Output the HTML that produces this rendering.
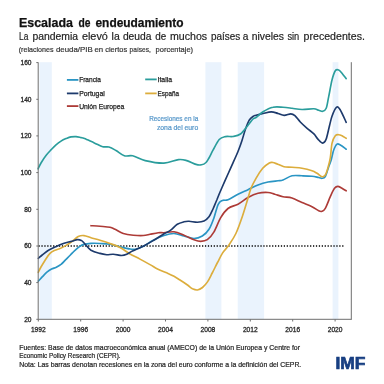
<!DOCTYPE html>
<html><head><meta charset="utf-8"><style>
html,body{margin:0;padding:0;background:#fff;}
body{width:384px;height:384px;overflow:hidden;position:relative;}
svg{position:absolute;left:0;top:0;font-family:"Liberation Sans", sans-serif;will-change:transform;}
</style></head><body>
<svg width="384" height="384" viewBox="0 0 384 384">
<rect x="39.4" y="62.2" width="12.4" height="257.1" fill="#eaf3fd"/>
<rect x="205.4" y="62.2" width="16.0" height="257.1" fill="#eaf3fd"/>
<rect x="237.7" y="62.2" width="26.4" height="257.1" fill="#eaf3fd"/>
<rect x="332.6" y="62.2" width="5.8" height="257.1" fill="#eaf3fd"/>
<line x1="38.5" y1="246" x2="345" y2="246" stroke="#000" stroke-width="1.3" stroke-dasharray="1.25 1.67"/>
<path d="M38.3 281.2 C39.0 280.5 40.8 278.4 42.2 276.9 C43.7 275.4 45.3 273.5 46.9 272.2 C48.5 270.9 50.0 269.8 51.6 269.0 C53.2 268.2 54.7 268.0 56.3 267.2 C57.9 266.4 59.4 265.6 61.0 264.4 C62.6 263.1 64.1 261.3 65.7 259.7 C67.3 258.1 68.9 256.6 70.4 255.0 C72.0 253.4 73.4 251.7 75.0 250.3 C76.6 248.9 78.2 247.4 79.8 246.4 C81.2 245.4 82.1 244.9 84.0 244.4 C85.9 243.9 88.3 243.6 91.0 243.4 C93.7 243.2 96.8 243.3 100.0 243.5 C103.2 243.7 106.7 243.8 110.0 244.3 C113.3 244.9 116.7 246.0 120.0 246.8 C123.3 247.6 127.2 248.6 130.0 249.0 C132.8 249.4 134.5 249.4 136.7 249.0 C138.9 248.6 140.5 247.8 143.3 246.3 C146.1 244.8 149.9 242.0 153.3 240.2 C156.8 238.4 160.6 236.6 164.0 235.5 C167.4 234.4 170.7 233.4 174.0 233.5 C177.3 233.6 180.7 235.2 184.0 236.0 C187.3 236.8 190.9 238.5 194.0 238.5 C197.1 238.5 199.8 237.5 202.3 236.0 C204.8 234.5 207.1 232.4 209.0 229.3 C210.9 226.2 212.5 221.9 214.0 217.7 C215.5 213.5 216.8 207.2 218.2 204.3 C219.6 201.4 220.7 201.3 222.3 200.5 C223.9 199.7 225.4 200.8 228.0 199.7 C230.6 198.6 234.7 195.9 238.0 194.2 C241.3 192.5 244.7 191.2 248.0 189.7 C251.3 188.2 254.7 186.3 258.0 185.0 C261.3 183.7 264.7 182.7 268.0 182.0 C271.3 181.3 275.5 181.1 278.0 180.8 C280.5 180.5 280.7 180.8 283.0 180.0 C285.3 179.2 288.8 176.5 292.0 175.8 C295.2 175.1 298.7 175.7 302.0 175.8 C305.3 175.9 309.2 176.0 312.0 176.3 C314.8 176.6 317.0 177.2 318.7 177.5 C320.4 177.8 320.9 178.4 322.0 178.3 C323.1 178.2 324.2 178.6 325.3 176.7 C326.4 174.8 327.7 169.5 328.7 166.7 C329.7 163.9 330.4 162.8 331.2 160.0 C332.0 157.2 332.7 152.6 333.7 150.0 C334.7 147.4 335.9 145.0 337.0 144.2 C338.1 143.4 338.8 144.2 340.3 145.0 C341.8 145.8 345.2 148.5 346.2 149.2" fill="none" stroke="#2a95c4" stroke-width="1.65" stroke-linejoin="round" stroke-linecap="round"/>
<path d="M91.0 225.7 C92.5 225.8 96.8 226.0 100.0 226.3 C103.2 226.6 107.5 226.8 110.0 227.3 C112.5 227.8 112.8 228.3 115.0 229.3 C117.2 230.3 120.2 232.5 123.3 233.5 C126.3 234.5 130.0 234.9 133.3 235.2 C136.6 235.5 140.5 235.7 143.3 235.5 C146.1 235.3 147.5 234.8 150.0 234.3 C152.5 233.8 156.0 233.0 158.3 232.7 C160.6 232.4 161.4 232.8 164.0 232.7 C166.6 232.5 170.7 231.4 174.0 231.8 C177.3 232.2 180.7 233.9 184.0 235.2 C187.3 236.5 191.2 238.7 194.0 239.7 C196.8 240.7 198.5 241.3 200.7 241.3 C202.9 241.3 205.1 241.3 207.3 239.7 C209.5 238.1 211.8 235.5 214.0 231.8 C216.2 228.1 218.4 221.6 220.7 217.7 C223.0 213.8 225.1 210.8 228.0 208.5 C230.9 206.2 234.7 206.0 238.0 204.2 C241.3 202.4 244.7 199.3 248.0 197.5 C251.3 195.7 254.7 194.1 258.0 193.3 C261.3 192.5 265.2 192.3 268.0 192.5 C270.8 192.7 272.2 193.5 274.7 194.2 C277.2 194.9 280.1 196.1 283.0 196.7 C285.9 197.3 288.8 197.0 292.0 198.0 C295.2 199.0 298.7 201.1 302.0 202.5 C305.3 203.9 309.2 205.3 312.0 206.7 C314.8 208.1 317.0 210.0 318.7 210.8 C320.4 211.6 320.9 211.7 322.0 211.3 C323.1 210.9 323.9 210.7 325.3 208.3 C326.7 205.9 328.8 200.0 330.3 196.7 C331.8 193.4 333.2 190.0 334.5 188.3 C335.8 186.6 336.6 186.3 337.8 186.3 C339.1 186.3 340.6 187.6 342.0 188.3 C343.4 189.1 345.5 190.4 346.2 190.8" fill="none" stroke="#ad3b37" stroke-width="1.65" stroke-linejoin="round" stroke-linecap="round"/>
<path d="M38.3 272.4 C38.7 271.6 39.5 269.6 40.7 267.5 C41.9 265.4 43.9 262.1 45.4 259.7 C46.9 257.3 48.4 255.0 50.0 253.4 C51.6 251.8 53.2 251.1 54.8 250.3 C56.3 249.5 57.6 249.5 59.4 248.8 C61.2 248.0 63.6 246.8 65.7 245.6 C67.8 244.4 69.8 243.2 71.9 241.7 C74.0 240.2 76.2 237.6 78.2 236.6 C80.2 235.6 81.9 235.4 84.0 235.6 C86.1 235.8 88.3 236.9 91.0 237.7 C93.7 238.5 96.8 239.2 100.0 240.2 C103.2 241.2 106.7 242.3 110.0 243.5 C113.3 244.7 116.7 245.8 120.0 247.5 C123.3 249.2 126.7 252.1 130.0 254.0 C133.3 255.9 136.7 257.3 140.0 259.1 C143.3 260.9 147.1 263.0 150.0 264.6 C152.9 266.2 154.5 267.5 157.5 269.0 C160.5 270.5 165.2 272.2 168.0 273.4 C170.8 274.6 172.0 275.2 174.0 276.3 C176.0 277.4 177.8 278.6 180.0 280.0 C182.2 281.4 185.4 283.5 187.5 285.0 C189.6 286.5 190.8 287.9 192.5 288.8 C194.2 289.6 195.8 290.2 197.5 290.0 C199.2 289.8 200.8 288.9 202.5 287.5 C204.2 286.1 205.8 284.4 207.5 281.9 C209.2 279.4 210.8 275.7 212.5 272.5 C214.2 269.3 215.8 265.7 217.5 262.5 C219.2 259.3 220.7 255.9 222.5 253.1 C224.3 250.3 226.2 249.0 228.4 245.7 C230.6 242.4 233.6 238.4 235.9 233.5 C238.2 228.6 240.7 221.3 242.5 216.0 C244.3 210.7 245.6 206.1 247.0 201.5 C248.4 196.9 249.5 192.2 251.0 188.3 C252.5 184.4 254.1 181.6 256.0 178.3 C257.9 175.0 260.5 170.9 262.7 168.3 C264.9 165.8 267.6 164.0 269.3 163.0 C271.0 162.0 271.3 162.3 272.7 162.5 C274.1 162.7 275.8 163.5 277.7 164.2 C279.6 164.9 281.6 166.2 284.0 166.7 C286.4 167.2 289.0 167.0 292.0 167.3 C295.0 167.6 298.7 167.7 302.0 168.3 C305.3 168.9 309.5 170.0 312.0 170.8 C314.5 171.6 315.3 172.3 317.0 173.3 C318.7 174.3 320.6 176.4 322.0 176.7 C323.4 177.0 324.3 176.4 325.3 175.0 C326.3 173.6 327.0 171.1 327.8 168.3 C328.6 165.5 329.6 162.2 330.3 158.0 C331.0 153.8 331.2 147.0 332.0 143.3 C332.8 139.6 334.2 137.2 335.3 135.8 C336.4 134.4 337.6 134.7 338.7 134.7 C339.8 134.7 340.8 135.2 342.0 135.8 C343.2 136.4 345.5 137.9 346.2 138.3" fill="none" stroke="#dcad3c" stroke-width="1.65" stroke-linejoin="round" stroke-linecap="round"/>
<path d="M38.3 258.3 C39.0 257.8 40.5 256.3 42.2 255.0 C44.0 253.7 46.2 251.7 48.5 250.3 C50.8 248.9 53.7 247.6 56.3 246.4 C58.9 245.2 61.5 244.2 64.1 243.3 C66.7 242.4 69.7 241.9 71.9 241.2 C74.1 240.6 75.8 239.7 77.4 239.6 C79.0 239.5 80.1 239.8 81.3 240.4 C82.5 241.1 82.9 241.9 84.5 243.5 C86.1 245.1 88.4 248.5 91.0 250.2 C93.6 251.8 97.4 252.7 100.0 253.4 C102.6 254.2 104.5 254.5 106.7 254.7 C108.9 254.8 110.8 254.2 113.3 254.3 C115.8 254.4 119.5 255.5 121.7 255.5 C123.9 255.5 124.9 255.1 126.7 254.3 C128.5 253.6 129.4 252.5 132.5 251.0 C135.6 249.5 141.2 247.1 145.0 245.2 C148.8 243.3 151.8 241.4 155.0 239.5 C158.2 237.6 161.4 235.4 164.0 233.8 C166.6 232.2 168.5 231.8 170.7 230.2 C172.9 228.6 175.1 225.7 177.3 224.3 C179.5 222.9 182.1 222.3 184.0 221.8 C185.9 221.3 186.8 221.2 189.0 221.3 C191.2 221.4 194.8 222.2 197.3 222.2 C199.8 222.1 202.1 221.9 204.0 221.0 C205.9 220.1 207.5 218.8 209.0 216.8 C210.5 214.8 211.7 211.8 213.0 209.0 C214.3 206.2 215.2 203.6 216.8 200.0 C218.2 196.4 220.1 191.8 222.0 187.5 C223.9 183.2 226.2 178.1 228.0 174.0 C229.8 169.9 231.3 166.6 233.0 162.8 C234.7 159.1 236.5 155.2 238.0 151.5 C239.5 147.8 240.8 144.2 242.0 140.5 C243.2 136.8 244.3 132.4 245.5 129.0 C246.7 125.6 248.0 122.3 249.2 120.2 C250.5 118.2 251.9 117.3 253.0 116.5 C254.1 115.7 254.3 115.8 256.0 115.2 C257.7 114.8 260.4 114.1 263.0 113.5 C265.6 112.9 268.8 111.8 271.3 111.8 C273.8 111.8 275.9 112.9 278.0 113.5 C280.1 114.1 282.0 115.4 284.1 115.4 C286.2 115.5 289.0 113.8 290.8 113.8 C292.6 113.8 293.3 114.2 294.9 115.6 C296.5 117.0 298.3 119.9 300.3 122.0 C302.3 124.1 304.8 126.3 307.1 128.3 C309.4 130.3 312.1 132.1 313.9 133.9 C315.7 135.7 316.4 137.6 317.9 139.1 C319.4 140.6 321.3 143.1 322.7 143.1 C324.1 143.1 325.0 142.2 326.1 139.3 C327.2 136.4 328.5 129.5 329.5 125.7 C330.5 121.9 330.9 119.3 332.0 116.3 C333.1 113.2 335.1 108.5 336.4 107.4 C337.7 106.3 338.4 107.0 340.0 109.5 C341.6 112.0 345.2 120.2 346.2 122.3" fill="none" stroke="#1d3a6c" stroke-width="1.65" stroke-linejoin="round" stroke-linecap="round"/>
<path d="M38.1 168.8 C38.6 167.8 39.7 165.2 41.0 163.0 C42.3 160.8 44.3 157.7 46.0 155.5 C47.7 153.3 49.3 151.7 51.0 149.9 C52.7 148.1 54.3 146.4 56.0 144.9 C57.7 143.4 59.3 142.2 61.0 141.1 C62.7 140.0 64.3 139.3 66.0 138.6 C67.7 137.9 69.3 137.2 71.0 136.9 C72.7 136.6 74.3 136.5 76.0 136.6 C77.7 136.7 79.6 137.3 81.0 137.6 C82.4 137.9 82.3 137.7 84.5 138.6 C86.7 139.5 91.3 141.6 94.3 142.9 C97.3 144.2 100.3 146.0 102.7 146.7 C105.1 147.4 106.7 146.4 108.9 147.0 C111.1 147.6 113.4 149.0 116.0 150.5 C118.6 152.0 121.5 154.9 124.3 155.8 C127.1 156.7 129.2 155.0 132.7 155.8 C136.2 156.6 140.0 159.4 145.2 160.6 C150.4 161.8 158.3 163.3 163.9 163.1 C169.5 162.9 174.7 160.0 178.5 159.6 C182.3 159.2 183.9 159.8 186.8 160.6 C189.7 161.4 193.6 163.7 196.0 164.4 C198.4 165.1 199.8 165.1 201.5 164.8 C203.2 164.5 204.8 163.6 206.0 162.5 C207.2 161.4 207.8 160.0 209.0 158.0 C210.2 156.0 211.3 153.3 213.0 150.2 C214.7 147.2 217.2 141.8 219.2 139.5 C221.3 137.2 223.2 137.1 225.5 136.6 C227.8 136.1 230.5 136.9 233.0 136.5 C235.5 136.1 238.0 135.9 240.5 134.0 C243.0 132.1 245.9 127.8 248.0 125.2 C250.1 122.8 251.7 120.3 253.0 119.0 C254.3 117.7 254.3 118.7 256.0 117.5 C257.7 116.3 260.2 113.5 263.0 111.8 C265.8 110.1 269.7 108.0 273.0 107.3 C276.3 106.5 279.8 107.1 283.0 107.3 C286.2 107.5 288.8 107.9 292.0 108.3 C295.2 108.7 298.4 109.4 302.0 109.5 C305.6 109.6 310.9 108.7 313.7 108.8 C316.5 108.9 317.2 109.9 318.7 110.3 C320.2 110.7 321.6 111.6 322.8 111.3 C324.1 111.0 325.2 110.7 326.2 108.3 C327.2 105.9 327.7 101.4 328.7 96.7 C329.7 92.0 330.9 84.3 332.0 80.0 C333.1 75.7 334.2 72.5 335.3 70.8 C336.4 69.1 337.6 69.6 338.7 70.0 C339.8 70.4 340.8 71.8 342.0 73.3 C343.2 74.8 345.5 77.8 346.2 78.7" fill="none" stroke="#2a9d9c" stroke-width="1.65" stroke-linejoin="round" stroke-linecap="round"/>
<line x1="38.2" y1="62.4" x2="38.2" y2="319.5" stroke="#6e6e6e" stroke-width="1"/>
<line x1="38.2" y1="319.3" x2="351.3" y2="319.3" stroke="#6e6e6e" stroke-width="1"/>
<line x1="351.3" y1="62.2" x2="351.3" y2="319.8" stroke="#6e6e6e" stroke-width="1"/>
<line x1="36.3" y1="319.3" x2="38.2" y2="319.3" stroke="#6e6e6e" stroke-width="1"/>
<text x="31.5" y="321.6" text-anchor="end" font-size="6.6" fill="#2a2a2a" stroke="#2a2a2a" stroke-width="0.3">20</text>
<line x1="36.3" y1="282.6" x2="38.2" y2="282.6" stroke="#6e6e6e" stroke-width="1"/>
<text x="31.5" y="284.9" text-anchor="end" font-size="6.6" fill="#2a2a2a" stroke="#2a2a2a" stroke-width="0.3">40</text>
<line x1="36.3" y1="246.0" x2="38.2" y2="246.0" stroke="#6e6e6e" stroke-width="1"/>
<text x="31.5" y="248.3" text-anchor="end" font-size="6.6" fill="#2a2a2a" stroke="#2a2a2a" stroke-width="0.3">60</text>
<line x1="36.3" y1="209.3" x2="38.2" y2="209.3" stroke="#6e6e6e" stroke-width="1"/>
<text x="31.5" y="211.6" text-anchor="end" font-size="6.6" fill="#2a2a2a" stroke="#2a2a2a" stroke-width="0.3">80</text>
<line x1="36.3" y1="172.6" x2="38.2" y2="172.6" stroke="#6e6e6e" stroke-width="1"/>
<text x="31.5" y="174.9" text-anchor="end" font-size="6.6" fill="#2a2a2a" stroke="#2a2a2a" stroke-width="0.3">100</text>
<line x1="36.3" y1="135.9" x2="38.2" y2="135.9" stroke="#6e6e6e" stroke-width="1"/>
<text x="31.5" y="138.2" text-anchor="end" font-size="6.6" fill="#2a2a2a" stroke="#2a2a2a" stroke-width="0.3">120</text>
<line x1="36.3" y1="99.3" x2="38.2" y2="99.3" stroke="#6e6e6e" stroke-width="1"/>
<text x="31.5" y="101.6" text-anchor="end" font-size="6.6" fill="#2a2a2a" stroke="#2a2a2a" stroke-width="0.3">140</text>
<line x1="36.3" y1="62.6" x2="38.2" y2="62.6" stroke="#6e6e6e" stroke-width="1"/>
<text x="31.5" y="64.9" text-anchor="end" font-size="6.6" fill="#2a2a2a" stroke="#2a2a2a" stroke-width="0.3">160</text>
<line x1="38.3" y1="319.3" x2="38.3" y2="321.5" stroke="#6e6e6e" stroke-width="1"/>
<text x="38.3" y="331.8" text-anchor="middle" font-size="6.9" fill="#2a2a2a" stroke="#2a2a2a" stroke-width="0.3" textLength="14.8" lengthAdjust="spacingAndGlyphs">1992</text>
<line x1="80.7" y1="319.3" x2="80.7" y2="321.5" stroke="#6e6e6e" stroke-width="1"/>
<text x="80.7" y="331.8" text-anchor="middle" font-size="6.9" fill="#2a2a2a" stroke="#2a2a2a" stroke-width="0.3" textLength="14.8" lengthAdjust="spacingAndGlyphs">1996</text>
<line x1="123.1" y1="319.3" x2="123.1" y2="321.5" stroke="#6e6e6e" stroke-width="1"/>
<text x="123.1" y="331.8" text-anchor="middle" font-size="6.9" fill="#2a2a2a" stroke="#2a2a2a" stroke-width="0.3" textLength="14.8" lengthAdjust="spacingAndGlyphs">2000</text>
<line x1="165.5" y1="319.3" x2="165.5" y2="321.5" stroke="#6e6e6e" stroke-width="1"/>
<text x="165.5" y="331.8" text-anchor="middle" font-size="6.9" fill="#2a2a2a" stroke="#2a2a2a" stroke-width="0.3" textLength="14.8" lengthAdjust="spacingAndGlyphs">2004</text>
<line x1="207.9" y1="319.3" x2="207.9" y2="321.5" stroke="#6e6e6e" stroke-width="1"/>
<text x="207.9" y="331.8" text-anchor="middle" font-size="6.9" fill="#2a2a2a" stroke="#2a2a2a" stroke-width="0.3" textLength="14.8" lengthAdjust="spacingAndGlyphs">2008</text>
<line x1="250.3" y1="319.3" x2="250.3" y2="321.5" stroke="#6e6e6e" stroke-width="1"/>
<text x="250.3" y="331.8" text-anchor="middle" font-size="6.9" fill="#2a2a2a" stroke="#2a2a2a" stroke-width="0.3" textLength="14.8" lengthAdjust="spacingAndGlyphs">2012</text>
<line x1="292.7" y1="319.3" x2="292.7" y2="321.5" stroke="#6e6e6e" stroke-width="1"/>
<text x="292.7" y="331.8" text-anchor="middle" font-size="6.9" fill="#2a2a2a" stroke="#2a2a2a" stroke-width="0.3" textLength="14.8" lengthAdjust="spacingAndGlyphs">2016</text>
<line x1="335.1" y1="319.3" x2="335.1" y2="321.5" stroke="#6e6e6e" stroke-width="1"/>
<text x="335.1" y="331.8" text-anchor="middle" font-size="6.9" fill="#2a2a2a" stroke="#2a2a2a" stroke-width="0.3" textLength="14.8" lengthAdjust="spacingAndGlyphs">2020</text>
<line x1="66.9" y1="79.9" x2="78.4" y2="79.9" stroke="#2a95c4" stroke-width="1.8"/>
<text x="79.2" y="82.30000000000001" font-size="7.2" fill="#222" stroke="#222" stroke-width="0.25" textLength="21.8" lengthAdjust="spacingAndGlyphs">Francia</text>
<line x1="66.9" y1="93.4" x2="78.4" y2="93.4" stroke="#1d3a6c" stroke-width="1.8"/>
<text x="79.2" y="95.80000000000001" font-size="7.2" fill="#222" stroke="#222" stroke-width="0.25" textLength="25.6" lengthAdjust="spacingAndGlyphs">Portugal</text>
<line x1="66.9" y1="106.1" x2="78.4" y2="106.1" stroke="#ad3b37" stroke-width="1.8"/>
<text x="79.2" y="108.5" font-size="7.2" fill="#222" stroke="#222" stroke-width="0.25" textLength="45.2" lengthAdjust="spacingAndGlyphs">Unión Europea</text>
<line x1="145.2" y1="79.4" x2="156.7" y2="79.4" stroke="#2a9d9c" stroke-width="1.8"/>
<text x="157.5" y="81.80000000000001" font-size="7.2" fill="#222" stroke="#222" stroke-width="0.25" textLength="14.6" lengthAdjust="spacingAndGlyphs">Italia</text>
<line x1="145.2" y1="93.4" x2="156.7" y2="93.4" stroke="#dcad3c" stroke-width="1.8"/>
<text x="157.5" y="95.80000000000001" font-size="7.2" fill="#222" stroke="#222" stroke-width="0.25" textLength="21.5" lengthAdjust="spacingAndGlyphs">España</text>
<text x="149.2" y="120.9" font-size="7.4" fill="#5596c9" stroke="#5596c9" stroke-width="0.22" textLength="49" lengthAdjust="spacingAndGlyphs">Recesiones en la</text>
<text x="156.9" y="129.8" font-size="7.4" fill="#5596c9" stroke="#5596c9" stroke-width="0.22" textLength="41.3" lengthAdjust="spacingAndGlyphs">zona del euro</text>
<text x="19.00" y="27" font-size="12.2" font-weight="bold" fill="#111" stroke="#111" stroke-width="0.25" textLength="53.92" lengthAdjust="spacingAndGlyphs">Escalada</text>
<text x="78.50" y="27" font-size="12.2" font-weight="bold" fill="#111" stroke="#111" stroke-width="0.25" textLength="12.00" lengthAdjust="spacingAndGlyphs">de</text>
<text x="95.50" y="27" font-size="12.2" font-weight="bold" fill="#111" stroke="#111" stroke-width="0.25" textLength="88.00" lengthAdjust="spacingAndGlyphs">endeudamiento</text>
<text x="19.10" y="39.6" font-size="10.4" fill="#222" stroke="#222" stroke-width="0.18" textLength="9.29" lengthAdjust="spacingAndGlyphs">La</text>
<text x="32.50" y="39.6" font-size="10.4" fill="#222" stroke="#222" stroke-width="0.18" textLength="45.59" lengthAdjust="spacingAndGlyphs">pandemia</text>
<text x="81.90" y="39.6" font-size="10.4" fill="#222" stroke="#222" stroke-width="0.18" textLength="26.00" lengthAdjust="spacingAndGlyphs">elevó</text>
<text x="111.60" y="39.6" font-size="10.4" fill="#222" stroke="#222" stroke-width="0.18" textLength="8.14" lengthAdjust="spacingAndGlyphs">la</text>
<text x="122.90" y="39.6" font-size="10.4" fill="#222" stroke="#222" stroke-width="0.18" textLength="28.59" lengthAdjust="spacingAndGlyphs">deuda</text>
<text x="155.25" y="39.6" font-size="10.4" fill="#222" stroke="#222" stroke-width="0.18" textLength="11.00" lengthAdjust="spacingAndGlyphs">de</text>
<text x="170.00" y="39.6" font-size="10.4" fill="#222" stroke="#222" stroke-width="0.18" textLength="37.11" lengthAdjust="spacingAndGlyphs">muchos</text>
<text x="210.90" y="39.6" font-size="10.4" fill="#222" stroke="#222" stroke-width="0.18" textLength="29.35" lengthAdjust="spacingAndGlyphs">países</text>
<text x="242.75" y="39.6" font-size="10.4" fill="#222" stroke="#222" stroke-width="0.18" textLength="5.64" lengthAdjust="spacingAndGlyphs">a</text>
<text x="251.75" y="39.6" font-size="10.4" fill="#222" stroke="#222" stroke-width="0.18" textLength="32.25" lengthAdjust="spacingAndGlyphs">niveles</text>
<text x="287.40" y="39.6" font-size="10.4" fill="#222" stroke="#222" stroke-width="0.18" textLength="11.85" lengthAdjust="spacingAndGlyphs">sin</text>
<text x="303.60" y="39.6" font-size="10.4" fill="#222" stroke="#222" stroke-width="0.18" textLength="61.30" lengthAdjust="spacingAndGlyphs">precedentes.</text>
<text x="18.75" y="51.6" font-size="8.0" fill="#333" stroke="#333" stroke-width="0.2" textLength="34.75" lengthAdjust="spacingAndGlyphs">(relaciones</text>
<text x="56.00" y="51.6" font-size="8.0" fill="#333" stroke="#333" stroke-width="0.2" textLength="36.75" lengthAdjust="spacingAndGlyphs">deuda/PIB</text>
<text x="94.40" y="51.6" font-size="8.0" fill="#333" stroke="#333" stroke-width="0.2" textLength="8.70" lengthAdjust="spacingAndGlyphs">en</text>
<text x="105.25" y="51.6" font-size="8.0" fill="#333" stroke="#333" stroke-width="0.2" textLength="21.85" lengthAdjust="spacingAndGlyphs">ciertos</text>
<text x="129.60" y="51.6" font-size="8.0" fill="#333" stroke="#333" stroke-width="0.2" textLength="21.30" lengthAdjust="spacingAndGlyphs">países,</text>
<text x="155.60" y="51.6" font-size="8.0" fill="#333" stroke="#333" stroke-width="0.2" textLength="37.50" lengthAdjust="spacingAndGlyphs">porcentaje)</text>
<text x="19.3" y="349.9" font-size="6.9" fill="#222" stroke="#222" stroke-width="0.2" textLength="280.7" lengthAdjust="spacingAndGlyphs">Fuentes: Base de datos macroeconómica anual (AMECO) de la Unión Europea y Centre for</text>
<text x="19.3" y="358.3" font-size="6.9" fill="#222" stroke="#222" stroke-width="0.2" textLength="101.3" lengthAdjust="spacingAndGlyphs">Economic Policy Research (CEPR).</text>
<text x="19.3" y="366.8" font-size="6.9" fill="#222" stroke="#222" stroke-width="0.2" textLength="282" lengthAdjust="spacingAndGlyphs">Nota: Las barras denotan recesiones en la zona del euro conforme a la definición del CEPR.</text>
<text x="335.5" y="369.1" font-size="16.8" font-weight="bold" fill="#183f82" stroke="#183f82" stroke-width="0.7" textLength="30" lengthAdjust="spacingAndGlyphs">IMF</text>
</svg>
</body></html>
